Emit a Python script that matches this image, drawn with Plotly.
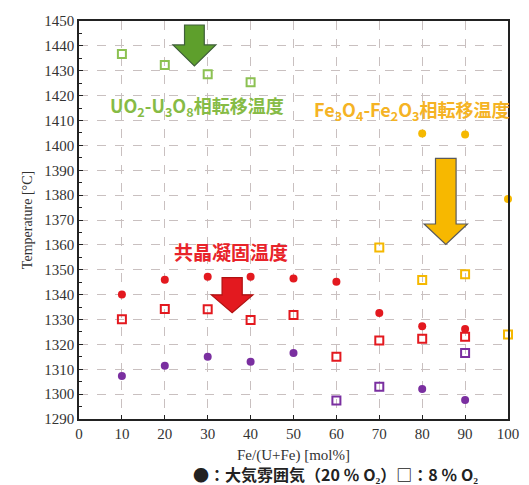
import plotly.graph_objects as go

# Fe/(U+Fe) [mol%] and measured transition temperatures [°C]
uo2_x = [10, 20, 30, 40]
uo2_sq = [1436.7, 1432.3, 1428.6, 1425.4]

eut_x = [10, 20, 30, 40, 50, 60, 70, 80, 90]
eut_air = [1340.1, 1346.0, 1347.2, 1347.2, 1346.5, 1345.2, 1332.6, 1327.3, 1326.2]
eut_sq = [1330.1, 1334.2, 1334.1, 1329.8, 1331.8, 1315.0, 1321.6, 1322.3, 1323.1]

pur_air_x = [10, 20, 30, 40, 50, 80, 90]
pur_air = [1307.3, 1311.4, 1315.0, 1313.0, 1316.5, 1302.1, 1297.6]
pur_sq_x = [60, 70, 90]
pur_sq = [1297.4, 1303.0, 1316.5]

fe_air_x = [80, 90, 100]
fe_air = [1404.8, 1404.4, 1378.4]
fe_sq_x = [70, 80, 90, 100]
fe_sq = [1358.9, 1345.9, 1348.2, 1324.0]

x_ticks = list(range(0, 101, 10))
y_ticks = list(range(1290, 1451, 10))

GREEN = "#8cc152"
RED = "#e3191f"
PURPLE = "#7a2fa0"
YELLOW = "#f5b800"

fig = go.Figure()


def circles(x, y, color):
    fig.add_trace(go.Scatter(x=x, y=y, mode="markers", cliponaxis=False,
                             marker=dict(symbol="circle", size=8, color=color)))


def squares(x, y, color):
    fig.add_trace(go.Scatter(x=x, y=y, mode="markers", cliponaxis=False,
                             marker=dict(symbol="square-open", size=8, color=color,
                                         line=dict(width=2, color=color))))


squares(uo2_x, uo2_sq, GREEN)
circles(eut_x, eut_air, RED)
squares(eut_x, eut_sq, RED)
circles(pur_air_x, pur_air, PURPLE)
squares(pur_sq_x, pur_sq, PURPLE)
circles(fe_air_x, fe_air, YELLOW)
squares(fe_sq_x, fe_sq, YELLOW)


def down_arrow(xc, y_top, y_head, y_tip, shaft, head, fill, line):
    p = (f"M {xc - shaft} {y_top} L {xc + shaft} {y_top} L {xc + shaft} {y_head} "
         f"L {xc + head} {y_head} L {xc} {y_tip} L {xc - head} {y_head} "
         f"L {xc - shaft} {y_head} Z")
    fig.add_shape(type="path", path=p, xref="x", yref="y", fillcolor=fill,
                  line=dict(color=line, width=1.2), layer="above")


down_arrow(26.9, 1448.4, 1440.4, 1431.9, 2.3, 5.0, "#5e9f2c", "#3f5f3a")
down_arrow(85.5, 1394.8, 1368.4, 1360.2, 2.4, 5.05, "#f7b800", "#5a5a5a")
down_arrow(35.7, 1346.8, 1339.9, 1332.7, 2.35, 4.85, "#e3191f", "#b01010")

label_font = "Noto Sans CJK JP"
fig.add_annotation(x=27.6, y=1415.8, xref="x", yref="y", showarrow=False,
                   text="<b>UO<sub>2</sub>-U<sub>3</sub>O<sub>8</sub>相転移温度</b>",
                   font=dict(family=label_font, size=18, color="#86bb45"))
fig.add_annotation(x=77.6, y=1414.2, xref="x", yref="y", showarrow=False,
                   text="<b>Fe<sub>3</sub>O<sub>4</sub>-Fe<sub>2</sub>O<sub>3</sub>相転移温度</b>",
                   font=dict(family=label_font, size=18, color="#f5b324"))
fig.add_annotation(x=35.5, y=1357.5, xref="x", yref="y", showarrow=False,
                   text="<b>共晶凝固温度</b>",
                   font=dict(family=label_font, size=19, color="#e8232a"))
fig.add_annotation(x=0.598, y=-0.1372, xref="paper", yref="paper", showarrow=False,
                   xanchor="center", yanchor="middle", borderpad=0,
                   text="<b>●：大気雰囲気（20 ％ O₂）□：8 ％ O₂</b>",
                   font=dict(family=label_font, size=16, color="#222222"))

serif = "Liberation Serif"
axis_common = dict(showline=True, linecolor="#222222", linewidth=1.5, mirror=True,
                   showgrid=True, gridcolor="#c9c0c0", griddash="dash", gridwidth=1,
                   zeroline=False, ticks="inside", tickcolor="#222222", ticklen=4,
                   tickfont=dict(family=serif, size=15, color="#333333"))

fig.update_layout(
    width=529, height=485,
    margin=dict(l=79, r=10, t=21, b=66),
    paper_bgcolor="white", plot_bgcolor="white",
    showlegend=False,
    xaxis=dict(range=[0, 100], tickvals=x_ticks,
               title=dict(text="Fe/(U+Fe) [mol%]", standoff=9,
                          font=dict(family=serif, size=15, color="#333333")),
               **axis_common),
    yaxis=dict(range=[1290, 1450], tickvals=y_ticks,
               minor=dict(ticks="inside", ticklen=3, dtick=5, tickcolor="#222222",
                          showgrid=False),
               title=dict(text="Temperature [°C]", standoff=8,
                          font=dict(family=serif, size=14, color="#333333")),
               **axis_common),
)

fig.write_html("out.html")
